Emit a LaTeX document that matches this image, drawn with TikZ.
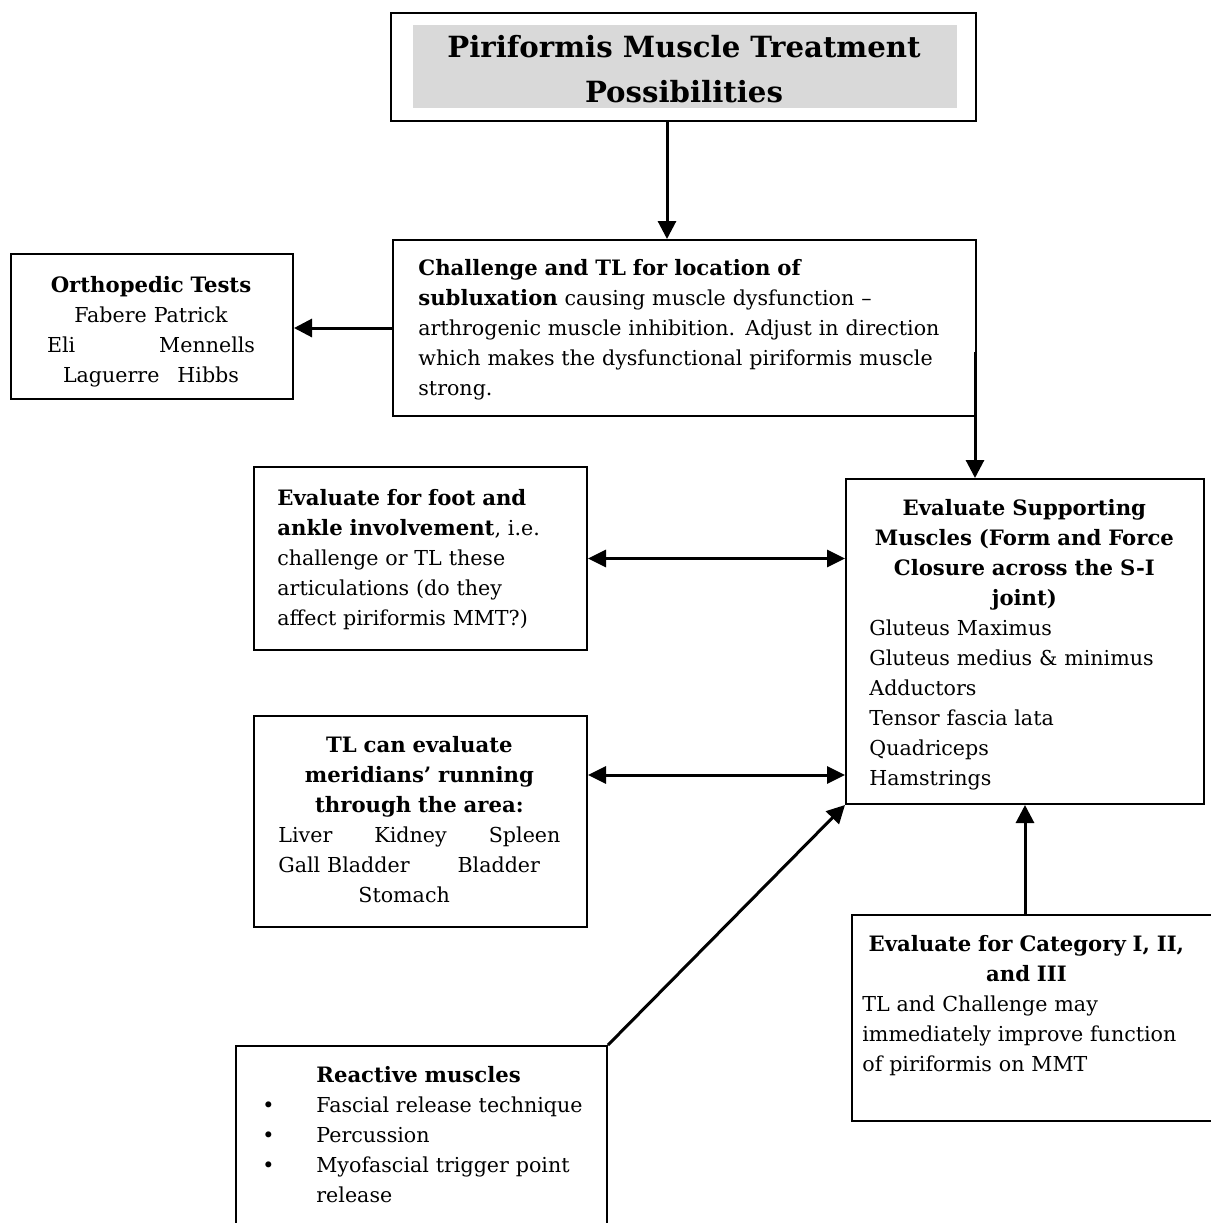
\documentclass[tikz,border=0pt]{standalone}
\usepackage{fontspec}
\setmainfont{DejaVu Serif}
\usetikzlibrary{arrows.meta}
\definecolor{titlegray}{RGB}{217,217,217}
\newcommand{\hb}[1]{{\fontsize{10.6}{15}\selectfont\bfseries #1}}
\tikzset{
 box/.style={draw, line width=1pt, inner sep=0pt, anchor=north west},
 txt/.style={inner sep=0pt, anchor=north west, font=\fontsize{10.3}{15}\selectfont},
 arr/.style={line width=1.5pt, -{Triangle[length=9pt,width=9pt]}},
 darr/.style={line width=1.5pt, {Triangle[length=9pt,width=8.5pt]}-{Triangle[length=9pt,width=8.5pt]}},
}
\begin{document}
\begin{tikzpicture}[x=0.5pt,y=-0.5pt]
\useasboundingbox (0,0) rectangle (1211,1223);
\clip (0,0) rectangle (1211,1223);
\fill[white] (0,0) rectangle (1211,1223);

% boxes
\node[box, minimum width=292.5pt, minimum height=54pt] (title) at (390,12) {};
\node[inner sep=0pt, anchor=north west, fill=titlegray, minimum width=272pt, minimum height=41.5pt] (gray) at (413,25) {};
\node[inner sep=0pt, align=center, font=\fontsize{14.6}{22.5}\selectfont\bfseries] (titletxt) at (684,69) {Piriformis Muscle Treatment\\Possibilities};

\node[box, minimum width=291.5pt, minimum height=88pt] (chal) at (392,239) {};
\node[txt, text width=280pt, align=left] (chaltxt) at (418,259) {\hb{Challenge and TL for location of}\\
\hb{subluxation} causing muscle dysfunction –\\
arthrogenic muscle inhibition. Adjust in direction\\
which makes the dysfunctional piriformis muscle\\
strong.};

\node[box, minimum width=141pt, minimum height=72.5pt] (orth) at (10,253) {};
\node[txt, anchor=north, text width=104pt, align=center] (orthtxt) at (151,276) {\hb{Orthopedic Tests}\\Fabere Patrick\\Eli\hfill Mennells\\Laguerre\hspace{9pt}Hibbs};

\node[box, minimum width=166.5pt, minimum height=91.5pt] (foot) at (253,466) {};
\node[txt, text width=150pt, align=left] (foottxt) at (277,489) {\hb{Evaluate for foot and}\\
\hb{ankle involvement}, i.e.\\
challenge or TL these\\
articulations (do they\\
affect piriformis MMT?)};

\node[box, minimum width=166.5pt, minimum height=105.5pt] (mer) at (253,715) {};
\node[txt, text width=141pt, align=center] (mertxt) at (278,736) {\hb{TL can evaluate}\\
\hb{meridians’ running}\\
\hb{through the area:}\\
Liver\hfill Kidney\hfill Spleen\\
Gall Bladder\hspace{24pt}Bladder\hfill\null\\
\hspace*{40pt}Stomach\hfill\null};

\node[box, minimum width=179pt, minimum height=162.5pt] (sup) at (845,478) {};
\node[txt, text width=155pt, align=center] (suptxt) at (869,499) {\hb{Evaluate Supporting}\\
\hb{Muscles (Form and Force}\\
\hb{Closure across the S-I}\\
\hb{joint)}\\
Gluteus Maximus\hfill\null\\
Gluteus medius \& minimus\hfill\null\\
Adductors\hfill\null\\
Tensor fascia lata\hfill\null\\
Quadriceps\hfill\null\\
Hamstrings\hfill\null};

\node[box, minimum width=181pt, minimum height=103pt] (cat) at (851,914) {};
\node[txt, text width=164pt, align=center] (cattxt) at (862,935) {\hb{Evaluate for Category I, II,}\\
\hb{and III}\\
TL and Challenge may\hfill\null\\
immediately improve function\hfill\null\\
of piriformis on MMT\hfill\null};

\node[box, minimum width=185.5pt, minimum height=100pt] (rea) at (235,1045) {};
\node[txt, text width=175pt, align=left] (reatxt) at (262,1066) {\hspace*{27pt}\hb{Reactive muscles}\\
\makebox[27pt][l]{•}Fascial release technique\\
\makebox[27pt][l]{•}Percussion\\
\makebox[27pt][l]{•}Myofascial trigger point\\
\hspace*{27pt}release};

% connectors
\coordinate (ax) at (667,0);
\coordinate (cx) at (975,352);
\coordinate (my) at (0,775);
\coordinate (kx) at (1025,0);
\draw[arr] (title.south -| ax) -- (chal.north -| ax);
\draw[arr] (chal.west) -- (chal.west -| orth.east);
\draw[arr] (cx) -- (sup.north -| cx);
\draw[darr] (foot.east) -- (foot.east -| sup.west);
\draw[darr] (mer.east |- my) -- (sup.west |- my);
\draw[arr] (cat.north -| kx) -- (sup.south -| kx);
\draw[arr] (rea.north east) -- (sup.south west);
\end{tikzpicture}
\end{document}
